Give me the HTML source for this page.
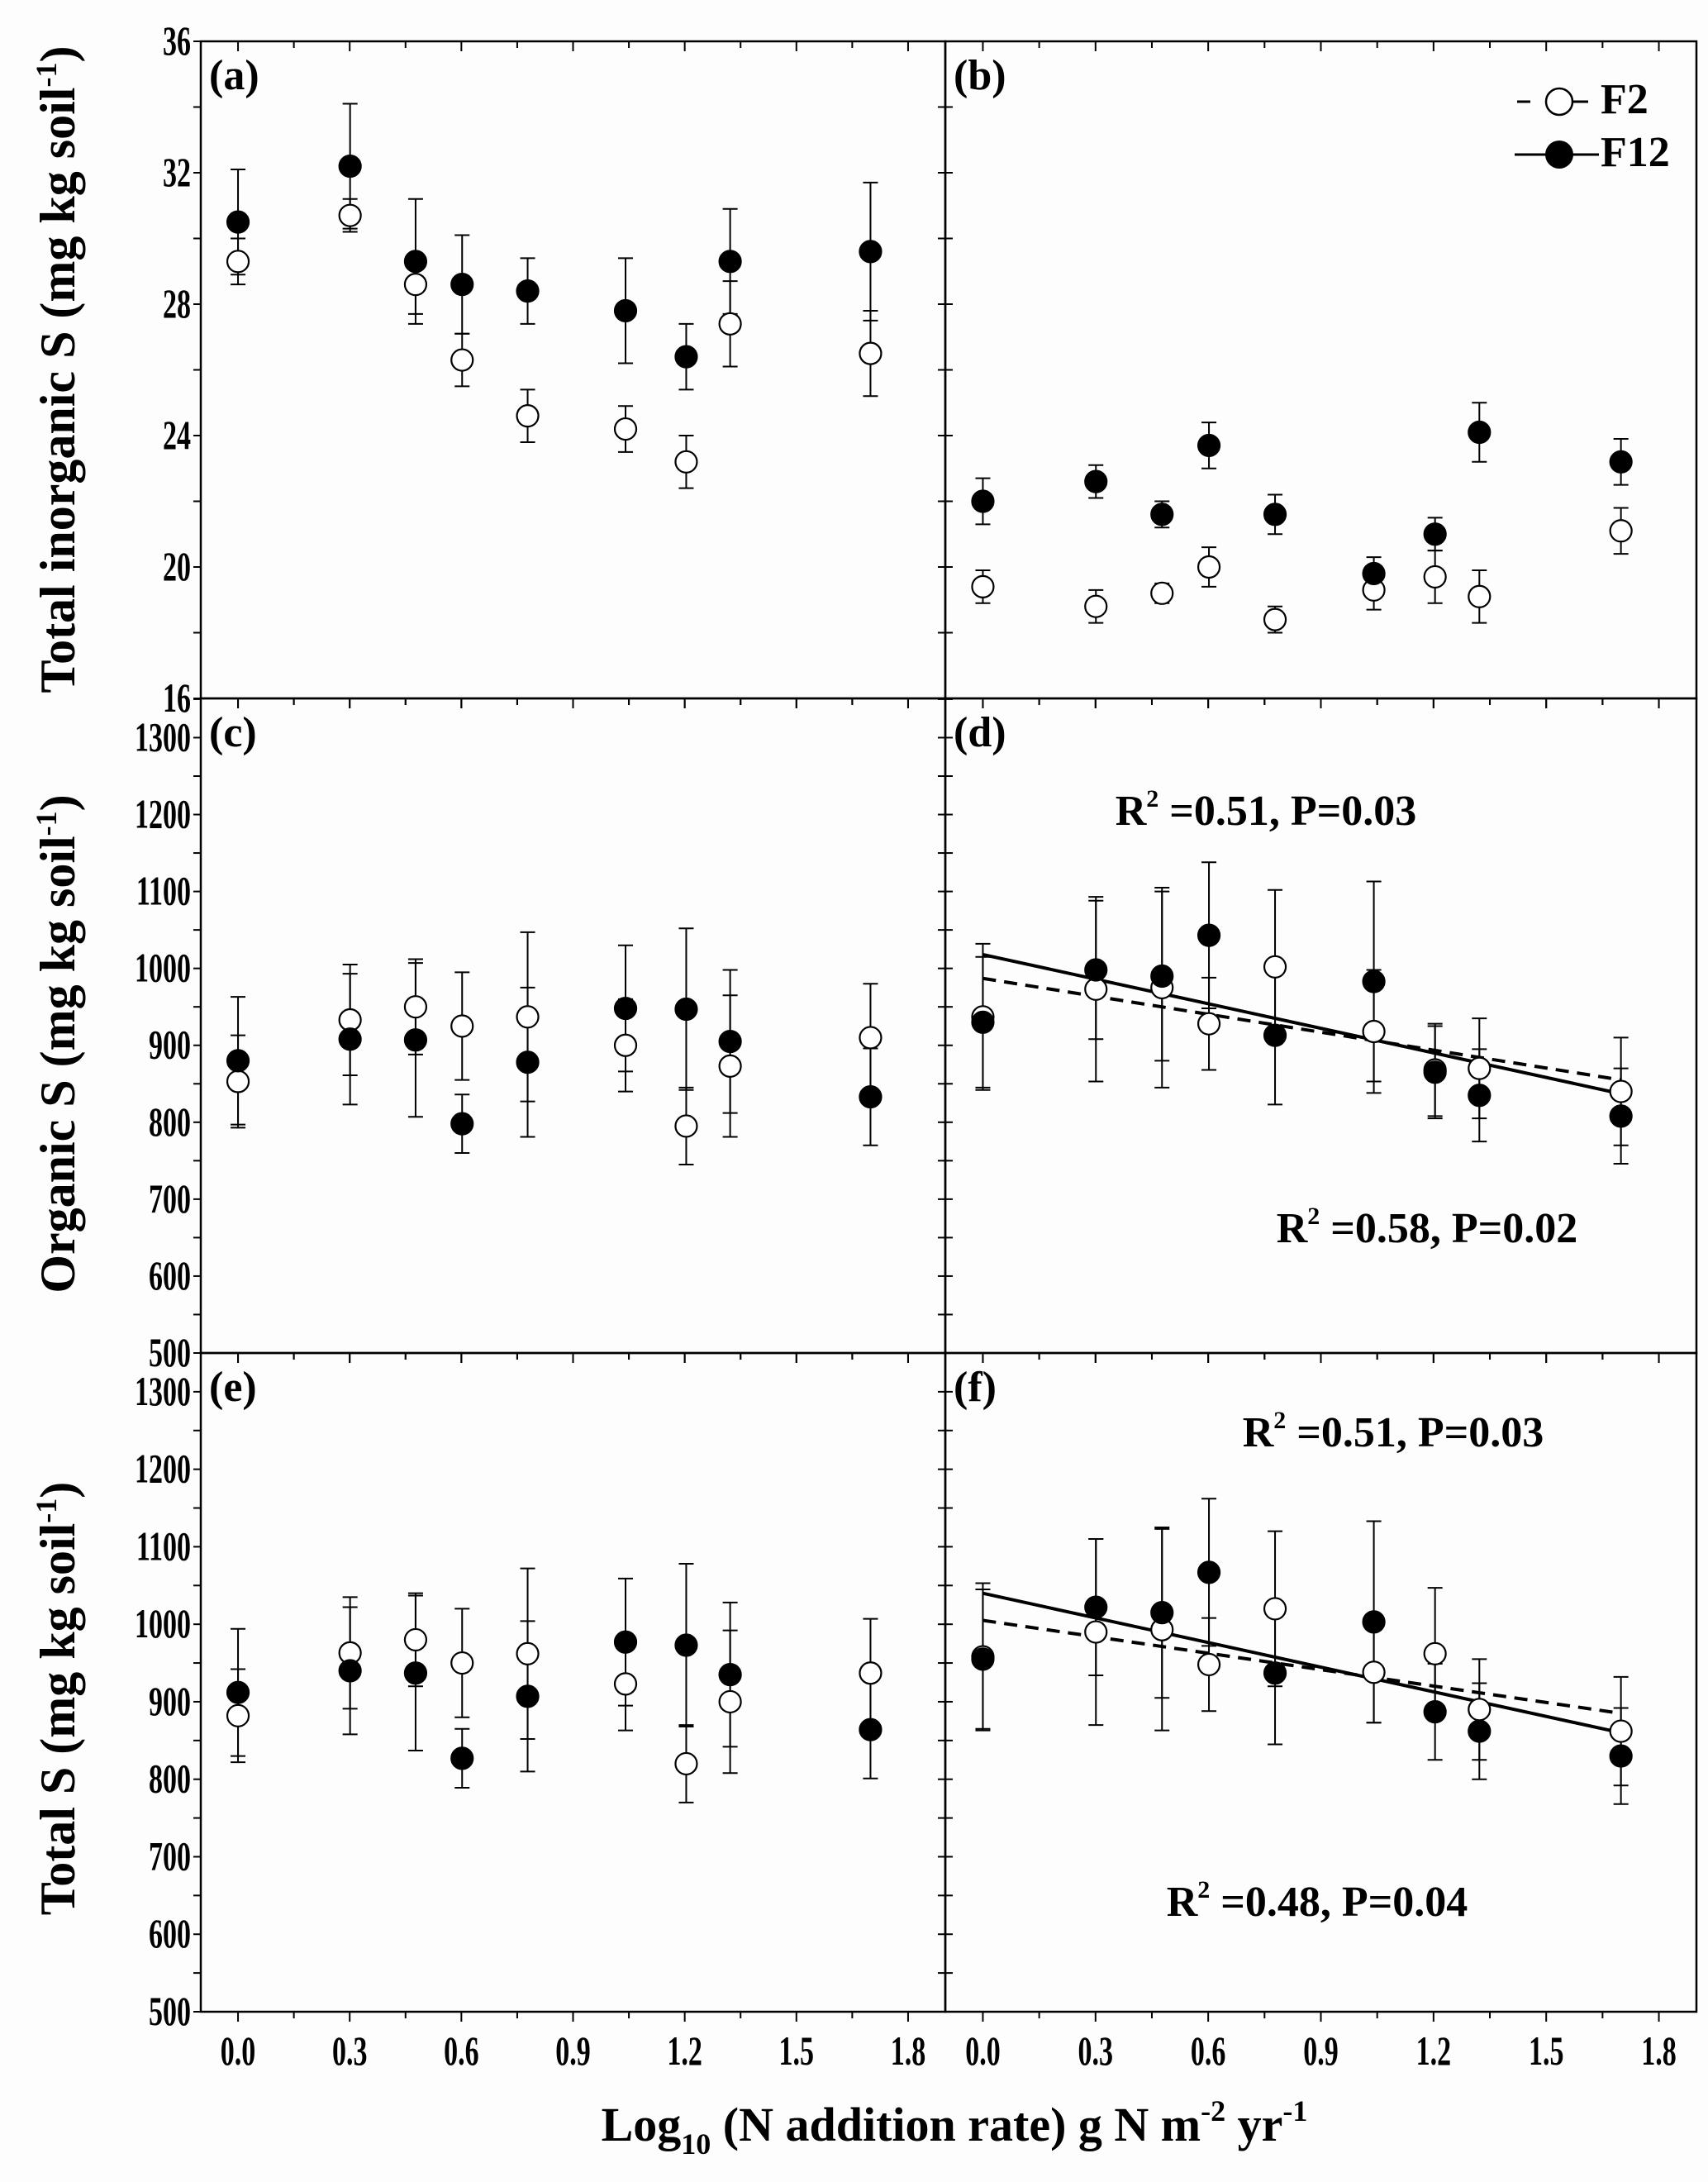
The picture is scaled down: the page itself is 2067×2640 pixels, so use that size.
<!DOCTYPE html>
<html><head><meta charset="utf-8"><style>
html,body{margin:0;padding:0;background:#fdfdfd;}
svg{display:block;font-family:"Liberation Serif",serif;font-weight:bold;}
</style></head><body>
<svg id="chart" width="2067" height="2640" viewBox="0 0 2067 2640" xmlns="http://www.w3.org/2000/svg">
<rect x="0" y="0" width="2067" height="2640" fill="#fdfdfd"/>
<g id="plots"></g>
<text x="1155" y="2590" font-size="58" text-anchor="middle">Log<tspan font-size="36" dy="16">10</tspan><tspan dy="-16"> (N addition rate) g N m</tspan><tspan font-size="36" dy="-24">-2</tspan><tspan dy="24"> yr</tspan><tspan font-size="36" dy="-24">-1</tspan></text>
<text transform="translate(90,447) rotate(-90)" font-size="60" text-anchor="middle">Total inorganic S (mg kg soil<tspan font-size="36" dy="-22">-1</tspan><tspan dy="22">)</tspan></text>
<text transform="translate(90,1263) rotate(-90)" font-size="60" text-anchor="middle">Organic S (mg kg soil<tspan font-size="36" dy="-22">-1</tspan><tspan dy="22">)</tspan></text>
<text transform="translate(90,2055) rotate(-90)" font-size="60" text-anchor="middle">Total S (mg kg soil<tspan font-size="36" dy="-22">-1</tspan><tspan dy="22">)</tspan></text>
<g>
<line x1="1836" y1="123" x2="1852" y2="123" stroke="#000" stroke-width="3"/>
<line x1="1904" y1="123" x2="1922" y2="123" stroke="#000" stroke-width="3"/>
<circle cx="1887" cy="123" r="16" fill="#fff" stroke="#000" stroke-width="2.5"/>
<text x="1937" y="137" font-size="52">F2</text>
<line x1="1833" y1="187" x2="1935" y2="187" stroke="#000" stroke-width="3"/>
<circle cx="1887" cy="187" r="17" fill="#000"/>
<text x="1937" y="201" font-size="52">F12</text>
</g>
</svg>
<script>
const xVals = [0, 0.301, 0.477, 0.602, 0.778, 1.041, 1.204, 1.322, 1.699];
const aF12 = [30.5, 32.2, 29.3, 28.6, 28.4, 27.8, 26.4, 29.3, 29.6];
const aF12Err = [1.6, 1.9, 1.9, 1.5, 1.0, 1.6, 1.0, 1.6, 2.1];
const aF2 = [29.3, 30.7, 28.6, 26.3, 24.6, 24.2, 23.2, 27.4, 26.5];
const aF2Err = [0.7, 0.5, 0.9, 0.8, 0.8, 0.7, 0.8, 1.3, 1.3];
const bF12 = [22.0, 22.6, 21.6, 23.7, 21.6, 19.8, 21.0, 24.1, 23.2];
const bF12Err = [0.7, 0.5, 0.4, 0.7, 0.6, 0.5, 0.5, 0.9, 0.7];
const bF2 = [19.4, 18.8, 19.2, 20.0, 18.4, 19.3, 19.7, 19.1, 21.1];
const bF2Err = [0.5, 0.5, 0.3, 0.6, 0.4, 0.6, 0.8, 0.8, 0.7];
const cF2 = [853, 933, 950, 925, 937, 900, 795, 873, 910];
const cF2Err = [60, 72, 62, 70, 110, 60, 50, 92, 70];
const cF12 = [880, 908, 907, 798, 878, 948, 947, 905, 833];
const cF12Err = [83, 85, 100, 38, 97, 82, 105, 93, 63];
const dF2 = [937, 973, 975, 928, 1002, 918, 868, 870, 840];
const dF2Err = [95, 120, 130, 60, 100, 80, 60, 65, 70];
const dF12 = [930, 998, 990, 1043, 913, 983, 865, 835, 808];
const dF12Err = [85, 90, 110, 95, 90, 130, 60, 60, 62];
const dFitF12 = [1018, 837];
const dFitF2 = [987, 855];
const eF2 = [882, 963, 980, 950, 962, 923, 820, 900, 937];
const eF2Err = [60, 72, 60, 70, 110, 60, 50, 92, 70];
const eF12 = [912, 940, 937, 827, 907, 977, 973, 935, 864];
const eF12Err = [82, 82, 100, 38, 97, 82, 105, 93, 63];
const fF2 = [958, 990, 993, 948, 1020, 938, 962, 890, 862];
const fF2Err = [95, 120, 130, 60, 100, 65, 85, 65, 70];
const fF12 = [955, 1022, 1015, 1067, 937, 1003, 887, 862, 830];
const fF12Err = [90, 88, 110, 95, 92, 130, 62, 62, 62];
const fFitF12 = [1040, 860];
const fFitF2 = [1005, 885];
const xTickLabels = ["0.0","0.3","0.6","0.9","1.2","1.5","1.8"];
const yTicksA = [16, 20, 24, 28, 32, 36];
const yTicksC = [500, 600, 700, 800, 900, 1000, 1100, 1200, 1300];

const NS = "http://www.w3.org/2000/svg";
const g = document.getElementById('plots');
function el(tag, attrs, parent) {
  const e = document.createElementNS(NS, tag);
  for (const k in attrs) e.setAttribute(k, attrs[k]);
  (parent || g).appendChild(e);
  return e;
}
const X0 = -0.1, X1 = 1.9;
const panels = [
  {id:'a', x0:243, x1:1144, y0:50, y1:845, ymin:16, ymax:36, left:true, f12:aF12, f12e:aF12Err, f2:aF2, f2e:aF2Err, major:4, minor:2},
  {id:'b', x0:1144, x1:2053, y0:50, y1:845, ymin:16, ymax:36, left:false, f12:bF12, f12e:bF12Err, f2:bF2, f2e:bF2Err, major:4, minor:2},
  {id:'c', x0:243, x1:1144, y0:845, y1:1637, ymin:500, ymax:1351, left:true, f12:cF12, f12e:cF12Err, f2:cF2, f2e:cF2Err, major:100, minor:50},
  {id:'d', x0:1144, x1:2053, y0:845, y1:1637, ymin:500, ymax:1351, left:false, f12:dF12, f12e:dF12Err, f2:dF2, f2e:dF2Err, major:100, minor:50, fit12:dFitF12, fit2:dFitF2,
    t1:{x:1532,y:998,s:"0.51, P=0.03"}, t2:{x:1727,y:1503,s:"0.58, P=0.02"}},
  {id:'e', x0:243, x1:1144, y0:1637, y1:2434, ymin:500, ymax:1350, left:true, f12:eF12, f12e:eF12Err, f2:eF2, f2e:eF2Err, major:100, minor:50},
  {id:'f', x0:1144, x1:2053, y0:1637, y1:2434, ymin:500, ymax:1350, left:false, f12:fF12, f12e:fF12Err, f2:fF2, f2e:fF2Err, major:100, minor:50, fit12:fFitF12, fit2:fFitF2,
    t1:{x:1686,y:1750,s:"0.51, P=0.03"}, t2:{x:1594,y:2318,s:"0.48, P=0.04"}}
];
panels.forEach(p => {
  const sx = v => p.x0 + (v - X0) / (X1 - X0) * (p.x1 - p.x0);
  const sy = v => p.y1 - (v - p.ymin) / (p.ymax - p.ymin) * (p.y1 - p.y0);
  const pg = el('g', {});
  
  
  const fr = el('rect', {x:p.x0, y:p.y0, width:p.x1-p.x0, height:p.y1-p.y0, fill:'none', stroke:'#000', 'stroke-width':2.5}, pg);
  
  
  for (let v = 0; v <= 1.81; v += 0.15) {
    const X = sx(v);
    const major = Math.abs((v / 0.3) - Math.round(v / 0.3)) < 0.01;
    el('line', {x1:X, y1:p.y0, x2:X, y2:p.y0 + (major ? 12 : 8), stroke:'#000', 'stroke-width':2}, pg);
    el('line', {x1:X, y1:p.y1, x2:X, y2:p.y1 + (major ? 12 : 8), stroke:'#000', 'stroke-width':2}, pg);
  }
  for (let v = p.ymin; v <= p.ymax + 0.01; v += p.minor) {
    const Y = sy(v);
    if (p.left) {
      el('line', {x1:p.x0 - 9, y1:Y, x2:p.x0, y2:Y, stroke:'#000', 'stroke-width':2}, pg);
      el('line', {x1:p.x1 - 9, y1:Y, x2:p.x1, y2:Y, stroke:'#000', 'stroke-width':2}, pg);
    } else {
      el('line', {x1:p.x0, y1:Y, x2:p.x0 + 9, y2:Y, stroke:'#000', 'stroke-width':2}, pg);
    }
  }
  if (p.left) {
    const ticks = p.major === 4 ? yTicksA : yTicksC;
    ticks.forEach(v => {
      if (v > p.ymax) return;
      const Y = sy(v);
      const t = el('text', {x:0, y:0, 'font-size':34, 'text-anchor':'end', transform:`translate(${p.x0 - 12},${Y + 16}) scale(1,1.45)`}, pg);
      t.textContent = v;
      
      
    });
  }
  if (p.id === 'e' || p.id === 'f') {
    xTickLabels.forEach(s => {
      const t = el('text', {x:0, y:0, 'font-size':34, 'text-anchor':'middle', transform:`translate(${sx(parseFloat(s))},${p.y1 + 64}) scale(1,1.45)`}, pg);
      t.textContent = s;
      
      
    });
  }
  const lab = el('text', {x:p.x0 + 10, y:p.y0 + 58, 'font-size':52}, pg);
  lab.textContent = '(' + p.id + ')';
  
  
  if (p.fit12) {
    const l1 = el('line', {x1:sx(0), y1:sy(p.fit12[0]), x2:sx(1.699), y2:sy(p.fit12[1]), stroke:'#000', 'stroke-width':4}, pg);
    
    
    const l2 = el('line', {x1:sx(0), y1:sy(p.fit2[0]), x2:sx(1.699), y2:sy(p.fit2[1]), stroke:'#000', 'stroke-width':4, 'stroke-dasharray':'16,10'}, pg);
    
    
    [p.t1, p.t2].forEach((t, i) => {
      const tx = el('text', {x:t.x, y:t.y, 'font-size':52, 'text-anchor':'middle'}, pg);
      tx.innerHTML = 'R<tspan font-size="30" dy="-22">2</tspan><tspan dy="22"> =' + t.s + '</tspan>';
      
      
    });
  }
  const series = [[p.f2, p.f2e, false], [p.f12, p.f12e, true]];
  series.forEach(([vals, errs, filled]) => {
    vals.forEach((v, i) => {
      const X = sx(xVals[i]), top = sy(v + errs[i]), bot = sy(v - errs[i]);
      const eb = el('path', {d:`M${X},${top}V${bot}M${X-9},${top}H${X+9}M${X-9},${bot}H${X+9}`, stroke:'#000', 'stroke-width':2, fill:'none'}, pg);
      
      
    });
  });
  series.forEach(([vals, errs, filled]) => {
    vals.forEach((v, i) => {
      const c = el('circle', {cx:sx(xVals[i]), cy:sy(v), r:13, fill:filled ? '#000' : '#fff', stroke:'#000', 'stroke-width':2.2}, pg);
      
      
    });
  });
});
</script>
</body></html>
